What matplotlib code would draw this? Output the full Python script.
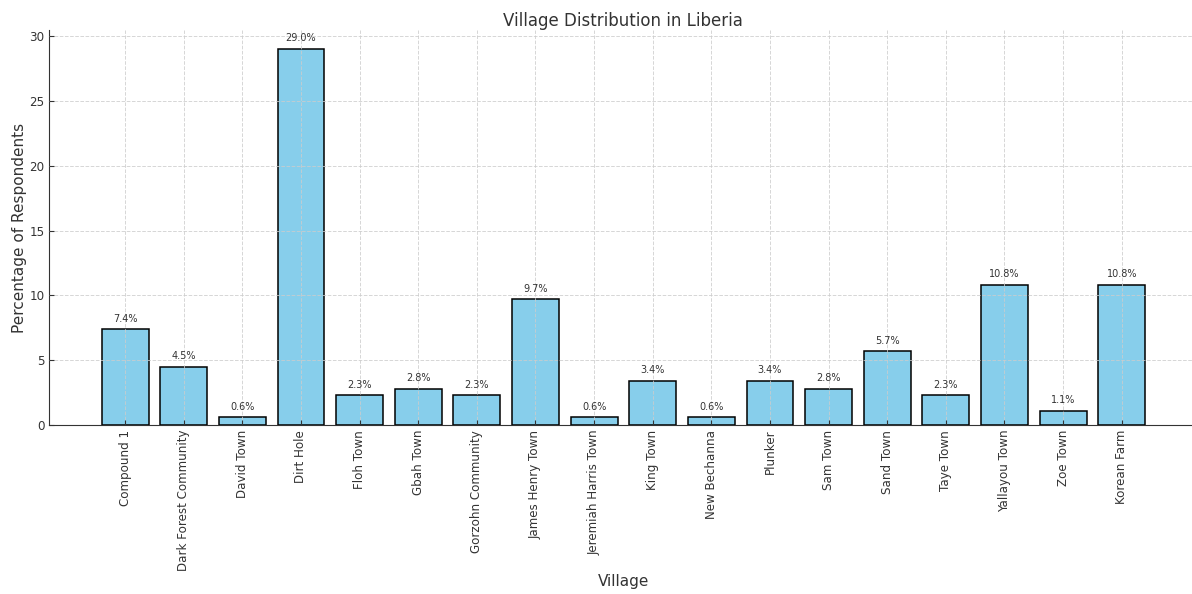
import matplotlib
matplotlib.use("Agg")
import matplotlib.pyplot as plt

villages = ["Compound 1", "Dark Forest Community", "David Town", "Dirt Hole", "Floh Town",
            "Gbah Town", "Gorzohn Community", "James Henry Town", "Jeremiah Harris Town",
            "King Town", "New Bechanna", "Plunker", "Sam Town", "Sand Town", "Taye Town",
            "Yallayou Town", "Zoe Town", "Korean Farm"]
percentages = [7.4, 4.5, 0.6, 29.0, 2.3, 2.8, 2.3, 9.7, 0.6, 3.4, 0.6, 3.4, 2.8, 5.7, 2.3,
               10.8, 1.1, 10.8]

fig = plt.figure(figsize=(11.92, 5.94), dpi=100)
ax = fig.add_axes([0.0415, 0.2845, 0.963, 0.6646])

bars = ax.bar(villages, percentages, color="skyblue", edgecolor="black", linewidth=1.1)
ax.set_axisbelow(False)
ax.grid(True, linestyle="--", color="#cccccc", alpha=0.8, linewidth=0.7)

for b, v in zip(bars, percentages):
    ax.annotate(f"{v:.1f}%", (b.get_x() + b.get_width() / 2, b.get_height()),
                xytext=(0, 4), textcoords="offset points", ha="center", va="bottom",
                fontsize=7, color="#333333")

ax.set_ylim(0, 30.45)
ax.set_title("Village Distribution in Liberia", fontsize=12, color="#333333", pad=3)
ax.set_xlabel("Village", fontsize=11, color="#333333", labelpad=2)
ax.set_ylabel("Percentage of Respondents", fontsize=11, color="#333333", labelpad=2)
ax.tick_params(axis="both", direction="in", colors="#333333", labelsize=8.6)
plt.setp(ax.get_xticklabels(), rotation=90)
for s in ["top", "right"]:
    ax.spines[s].set_visible(False)
for s in ["left", "bottom"]:
    ax.spines[s].set_color("#333333")

fig.savefig("out.png", dpi=100)
